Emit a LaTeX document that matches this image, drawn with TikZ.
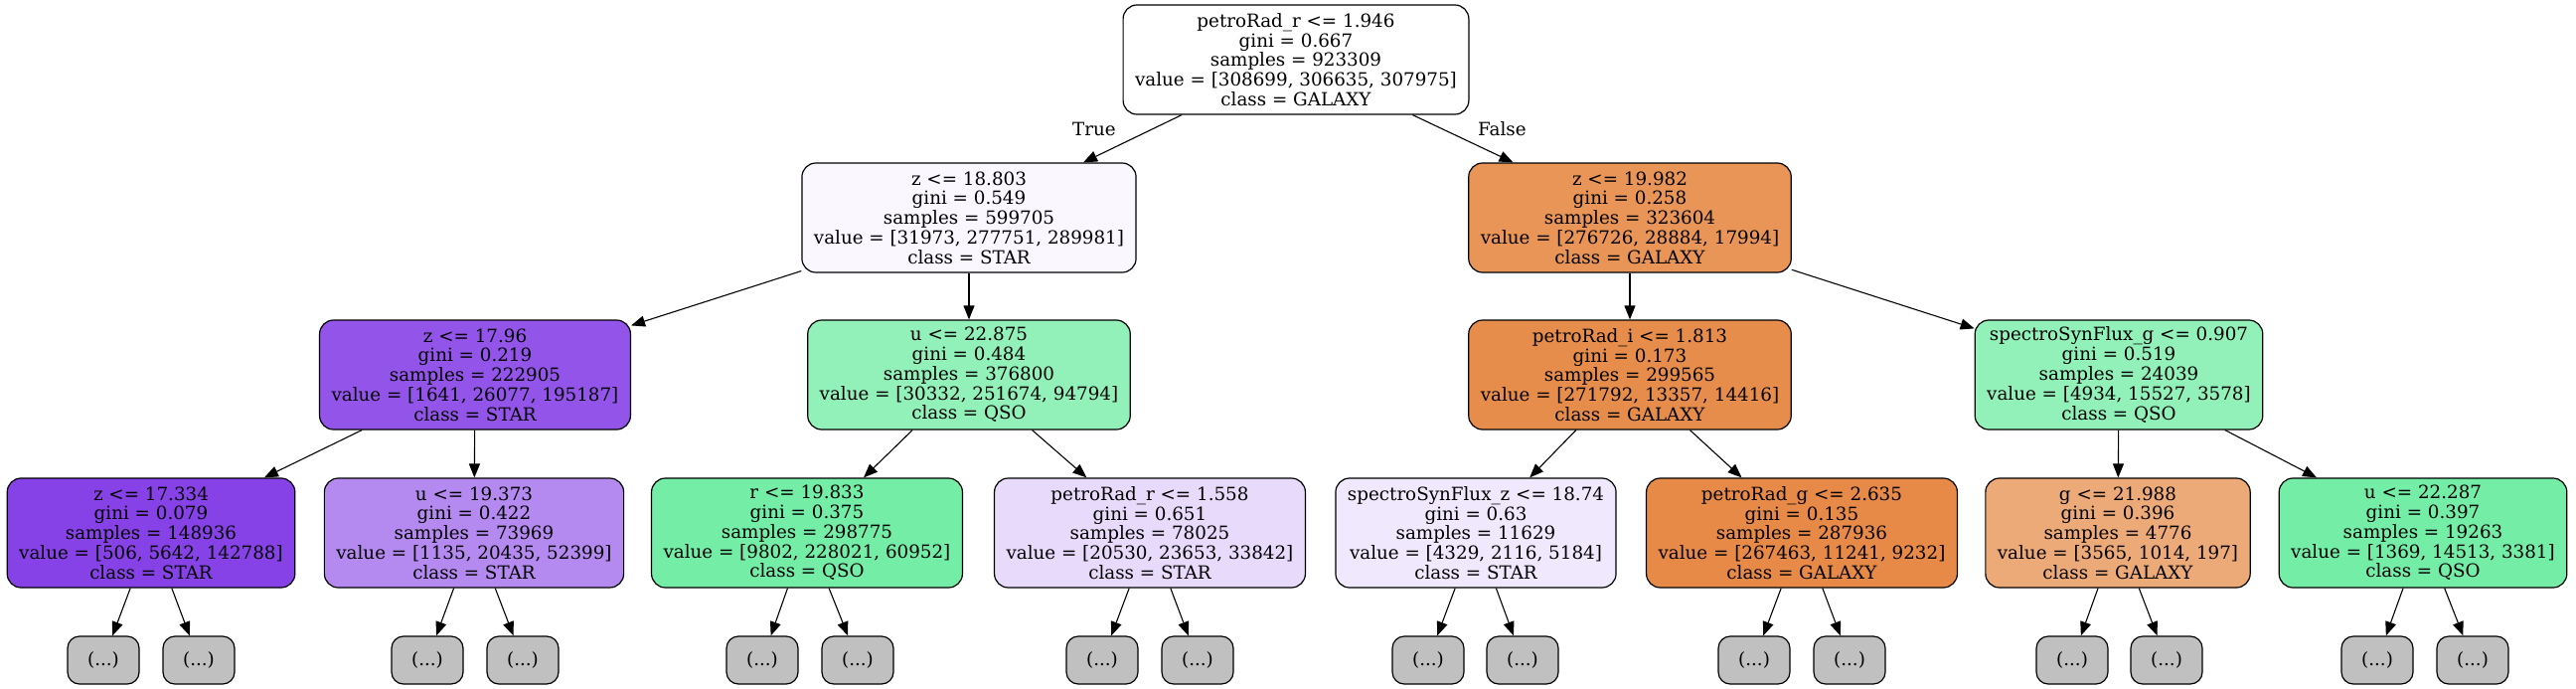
\documentclass[tikz,border=0pt]{standalone}
\usepackage{fontspec}
\setmainfont{DejaVu Serif}
\usetikzlibrary{arrows.meta}
\definecolor{galaxy1}{RGB}{233,149,88}
\definecolor{galaxy2}{RGB}{231,141,76}
\definecolor{galaxy3}{RGB}{231,138,72}
\definecolor{galaxy4}{RGB}{237,170,121}
\definecolor{qso1}{RGB}{145,241,185}
\definecolor{qso2}{RGB}{116,237,167}
\definecolor{star0}{RGB}{250,247,254}
\definecolor{star1}{RGB}{147,85,233}
\definecolor{star2}{RGB}{134,66,230}
\definecolor{star3}{RGB}{180,137,240}
\definecolor{star4}{RGB}{231,218,250}
\definecolor{star5}{RGB}{240,232,252}
\definecolor{leafgray}{RGB}{192,192,192}
\begin{document}
\begin{tikzpicture}[x=1pt,y=-1pt]
    \tikzstyle{split}=[draw,line width=1.2pt,rounded corners=14pt,align=center,inner xsep=12pt,minimum height=110pt,font=\fontsize{18.3}{19.8}\selectfont]
    \tikzstyle{more}=[draw,line width=1.2pt,rounded corners=12pt,fill=leafgray,minimum width=72pt,minimum height=48pt,font=\fontsize{18.3}{19.8}\selectfont]
    \tikzstyle{edge}=[-{Triangle[length=14pt,width=11pt]},line width=1.1pt]
    \tikzstyle{branch}=[font=\fontsize{18.3}{19.8}\selectfont,inner sep=0pt]
    \useasboundingbox (0,0) rectangle (2592,693);
    % root and first split
    \node[split,fill=white] (root) at (1304,60) {petroRad\_r <= 1.946\\gini = 0.667\\samples = 923309\\value = [308699, 306635, 307975]\\class = GALAXY};
    \node[split,fill=star0] (t) at (975,219) {z <= 18.803\\gini = 0.549\\samples = 599705\\value = [31973, 277751, 289981]\\class = STAR};
    \node[split,fill=galaxy1] (f) at (1640,219) {z <= 19.982\\gini = 0.258\\samples = 323604\\value = [276726, 28884, 17994]\\class = GALAXY};
    % depth 2
    \node[split,fill=star1] (tt) at (478,377) {z <= 17.96\\gini = 0.219\\samples = 222905\\value = [1641, 26077, 195187]\\class = STAR};
    \node[split,fill=qso1] (tf) at (975,377) {u <= 22.875\\gini = 0.484\\samples = 376800\\value = [30332, 251674, 94794]\\class = QSO};
    \node[split,fill=galaxy2] (ft) at (1640,377) {petroRad\_i <= 1.813\\gini = 0.173\\samples = 299565\\value = [271792, 13357, 14416]\\class = GALAXY};
    \node[split,fill=qso1] (ff) at (2132,377) {spectroSynFlux\_g <= 0.907\\gini = 0.519\\samples = 24039\\value = [4934, 15527, 3578]\\class = QSO};
    % depth 3
    \node[split,fill=star2] (ttt) at (152,536) {z <= 17.334\\gini = 0.079\\samples = 148936\\value = [506, 5642, 142788]\\class = STAR};
    \node[split,fill=star3] (ttf) at (477,536) {u <= 19.373\\gini = 0.422\\samples = 73969\\value = [1135, 20435, 52399]\\class = STAR};
    \node[split,fill=qso2] (tft) at (812,536) {r <= 19.833\\gini = 0.375\\samples = 298775\\value = [9802, 228021, 60952]\\class = QSO};
    \node[split,fill=star4] (tff) at (1157,536) {petroRad\_r <= 1.558\\gini = 0.651\\samples = 78025\\value = [20530, 23653, 33842]\\class = STAR};
    \node[split,fill=star5] (ftt) at (1485,536) {spectroSynFlux\_z <= 18.74\\gini = 0.63\\samples = 11629\\value = [4329, 2116, 5184]\\class = STAR};
    \node[split,fill=galaxy3] (ftf) at (1813,536) {petroRad\_g <= 2.635\\gini = 0.135\\samples = 287936\\value = [267463, 11241, 9232]\\class = GALAXY};
    \node[split,fill=galaxy4] (fft) at (2131,536) {g <= 21.988\\gini = 0.396\\samples = 4776\\value = [3565, 1014, 197]\\class = GALAXY};
    \node[split,fill=qso2] (fff) at (2438,536) {u <= 22.287\\gini = 0.397\\samples = 19263\\value = [1369, 14513, 3381]\\class = QSO};
    % cut-off subtrees
    \node[more] (ttt1) at (104,664) {(...)};
    \node[more] (ttt2) at (200,664) {(...)};
    \node[more] (ttf1) at (430,664) {(...)};
    \node[more] (ttf2) at (526,664) {(...)};
    \node[more] (tft1) at (767,664) {(...)};
    \node[more] (tft2) at (863,664) {(...)};
    \node[more] (tff1) at (1109,664) {(...)};
    \node[more] (tff2) at (1205,664) {(...)};
    \node[more] (ftt1) at (1437,664) {(...)};
    \node[more] (ftt2) at (1532,664) {(...)};
    \node[more] (ftf1) at (1765,664) {(...)};
    \node[more] (ftf2) at (1861,664) {(...)};
    \node[more] (fft1) at (2085,664) {(...)};
    \node[more] (fft2) at (2180,664) {(...)};
    \node[more] (fff1) at (2392,664) {(...)};
    \node[more] (fff2) at (2488,664) {(...)};
    \foreach \a/\b in {root/t,root/f,t/tt,t/tf,f/ft,f/ff,tt/ttt,tt/ttf,tf/tft,tf/tff,ft/ftt,ft/ftf,ff/fft,ff/fff}
      \draw[edge] (\a) -- (\b);
    \foreach \a in {ttt,ttf,tft,tff,ftt,ftf,fft,fff} {
      \draw[edge] (\a) -- (\a1);
      \draw[edge] (\a) -- (\a2);
    }
    \node[branch,anchor=east] (truelabel) at (1123,130) {True};
    \node[branch,anchor=west] (falselabel) at (1487,130) {False};
\end{tikzpicture}
\end{document}
